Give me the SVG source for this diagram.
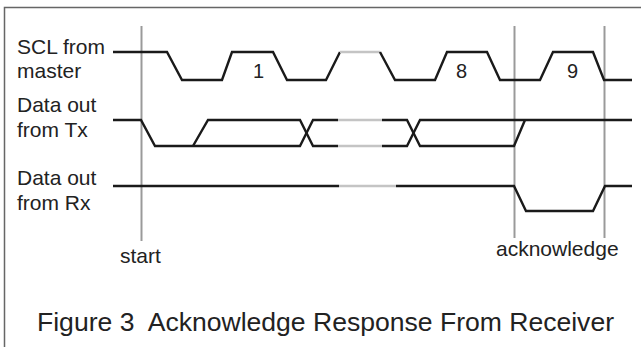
<svg xmlns="http://www.w3.org/2000/svg" width="641" height="347" viewBox="0 0 641 347">
<style>
text{font-family:"Liberation Sans",Arial,Helvetica,sans-serif;fill:#222}
.lbl{font-size:21px}
.num{font-size:20px}
.ttl{font-size:26px;white-space:pre}
.w{fill:none;stroke:#1a1a1a;stroke-width:2.4;stroke-linejoin:miter;stroke-linecap:butt}
.g{fill:none;stroke:#c4c4c4;stroke-width:2.4}
.v{fill:none;stroke:#9a9a9a;stroke-width:2}
.frame{fill:none;stroke:#666;stroke-width:1.5}
</style>
<rect width="641" height="347" fill="#fff"/>
<path class="frame" d="M4.5,347 V7.5 H641"/>
<g id="labels">
<text class="lbl" x="17" y="54">SCL from</text>
<text class="lbl" x="17" y="78">master</text>
<text class="lbl" x="17" y="112">Data out</text>
<text class="lbl" x="17" y="137">from Tx</text>
<text class="lbl" x="17" y="185">Data out</text>
<text class="lbl" x="17" y="210">from Rx</text>
</g>
<g id="markers">
<line class="v" x1="141.5" y1="26" x2="141.5" y2="241"/>
<line class="v" x1="514.5" y1="26" x2="514.5" y2="238"/>
<line class="v" x1="604.5" y1="26" x2="604.5" y2="238"/>
<text class="lbl" x="120" y="263">start</text>
<text class="lbl" x="496" y="256">acknowledge</text>
</g>
<g id="scl">
<path class="w" d="M113,52 H167 L182,80 H222 L232,52 H273 L287,80 H326 L340,52"/>
<path class="g" d="M340,52 H380"/>
<path class="w" d="M380,52 L395,80 H435 L447,52 H487 L500,80 H540 L553,52 H593 L604,80 H632"/>
<text class="num" x="253" y="78">1</text>
<text class="num" x="456" y="78">8</text>
<text class="num" x="567" y="78">9</text>
</g>
<g id="tx">
<path class="w" d="M113,120 H141 L155,146 H300 L313,120 H338"/>
<path class="w" d="M193,146 L208,120 H300 L313,146 H338"/>
<path class="g" d="M338,120 H382 M338,146 H382"/>
<path class="w" d="M382,120 H407 L420,146 H514 L525,120"/>
<path class="w" d="M382,146 H407 L420,120 H632"/>
</g>
<g id="rx">
<path class="w" d="M113,186 H339"/>
<path class="g" d="M339,186 H396"/>
<path class="w" d="M396,186 H514 L526,211 H593 L605,186 H632"/>
</g>
<g id="caption">
<text class="ttl" x="37" y="331" xml:space="preserve" textLength="577" lengthAdjust="spacingAndGlyphs">Figure 3  Acknowledge Response From Receiver</text>
</g>
</svg>
